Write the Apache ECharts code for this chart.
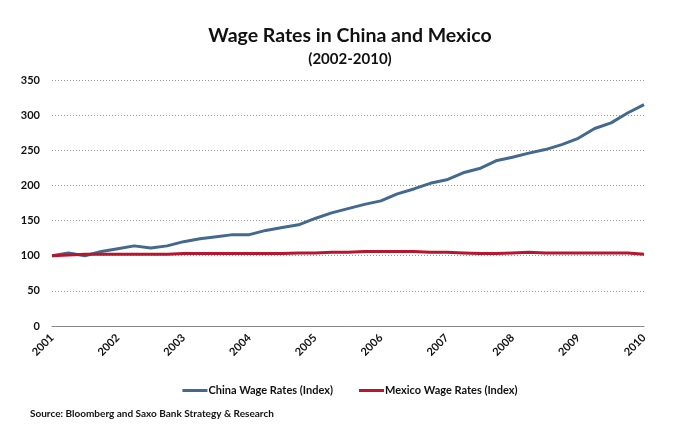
<!DOCTYPE html>
<html>
<head>
<meta charset="utf-8">
<script src="https://cdn.jsdelivr.net/npm/echarts@6/dist/echarts.min.js"></script>
<style>
html,body{margin:0;padding:0;background:#fff;}
#chart{width:700px;height:432px;}
</style>
</head>
<body>
<div id="chart"></div>
<script>
// Quarterly observations, 2001 Q1 .. 2010 Q1
var startYear = 2001;
var yearTicks = [2001, 2002, 2003, 2004, 2005, 2006, 2007, 2008, 2009, 2010];
var chinaWages = [100, 104, 100, 106, 110, 114, 111, 114, 120, 124, 127, 130, 130, 136, 140, 144,
  153, 161, 167, 173, 178, 188, 195, 203, 208, 218, 224, 235, 240, 246, 251, 258, 267, 281, 289, 303, 315];
var mexicoWages = [100, 101, 102, 102, 102, 102, 102, 102, 103, 103, 103, 103, 103, 103, 103, 104,
  104, 105, 105, 106, 106, 106, 106, 105, 105, 104, 103, 103, 104, 105, 104, 104, 104, 104, 104, 104, 102];
var seriesNames = ['China Wage Rates (Index)', 'Mexico Wage Rates (Index)'];
var yTicks = [0, 50, 100, 150, 200, 250, 300, 350];

function toPoints(arr) {
  return arr.map(function (v, i) { return [startYear + i / 4, v]; });
}

var FONT = 'Lato';
var chart = echarts.init(document.getElementById('chart'));
chart.setOption({
  animation: false,
  backgroundColor: '#ffffff',
  title: [
    { text: 'Wage Rates in China and Mexico', left: 'center', top: 21,
      textStyle: { fontFamily: FONT, fontWeight: 'bold', fontSize: 19.5, color: '#111' } },
    { text: '(2002-2010)', left: 'center', top: 47,
      textStyle: { fontFamily: FONT, fontWeight: 'bold', fontSize: 15, color: '#111' } },
    { text: 'Source: Bloomberg and Saxo Bank Strategy & Research', left: 25, top: 404,
      textStyle: { fontFamily: FONT, fontWeight: 'bold', fontSize: 10, color: '#111' } }
  ],
  legend: {
    top: 380, left: 'center',
    icon: 'rect', itemWidth: 25, itemHeight: 3, itemGap: 26,
    textStyle: { fontFamily: FONT, fontWeight: 'bold', fontSize: 11, color: '#111', padding: [0, 0, 0, -4] },
    data: seriesNames
  },
  grid: { left: 52, right: 56, top: 80, bottom: 106, containLabel: false },
  xAxis: {
    type: 'value', min: yearTicks[0], max: yearTicks[yearTicks.length - 1], interval: 1,
    axisLine: { show: true, lineStyle: { color: '#888', width: 1 } },
    axisTick: { show: false },
    splitLine: { show: false },
    axisLabel: { rotate: 45, margin: 10, fontFamily: FONT, fontWeight: 'bold', fontSize: 11, color: '#111',
      formatter: function (v) { return String(v); } }
  },
  yAxis: {
    type: 'value', min: yTicks[0], max: yTicks[yTicks.length - 1], interval: 50,
    axisLine: { show: false }, axisTick: { show: false },
    splitLine: { show: true, lineStyle: { color: '#999', type: [1, 2], width: 1 } },
    axisLabel: { margin: 12, fontFamily: FONT, fontWeight: 'bold', fontSize: 11, color: '#111' }
  },
  series: [
    { name: seriesNames[0], type: 'line', data: toPoints(chinaWages), showSymbol: false,
      lineStyle: { color: '#44698E', width: 3 }, itemStyle: { color: '#44698E' } },
    { name: seriesNames[1], type: 'line', data: toPoints(mexicoWages), showSymbol: false,
      lineStyle: { color: '#B8152F', width: 3 }, itemStyle: { color: '#B8152F' } }
  ]
});
</script>
</body>
</html>
